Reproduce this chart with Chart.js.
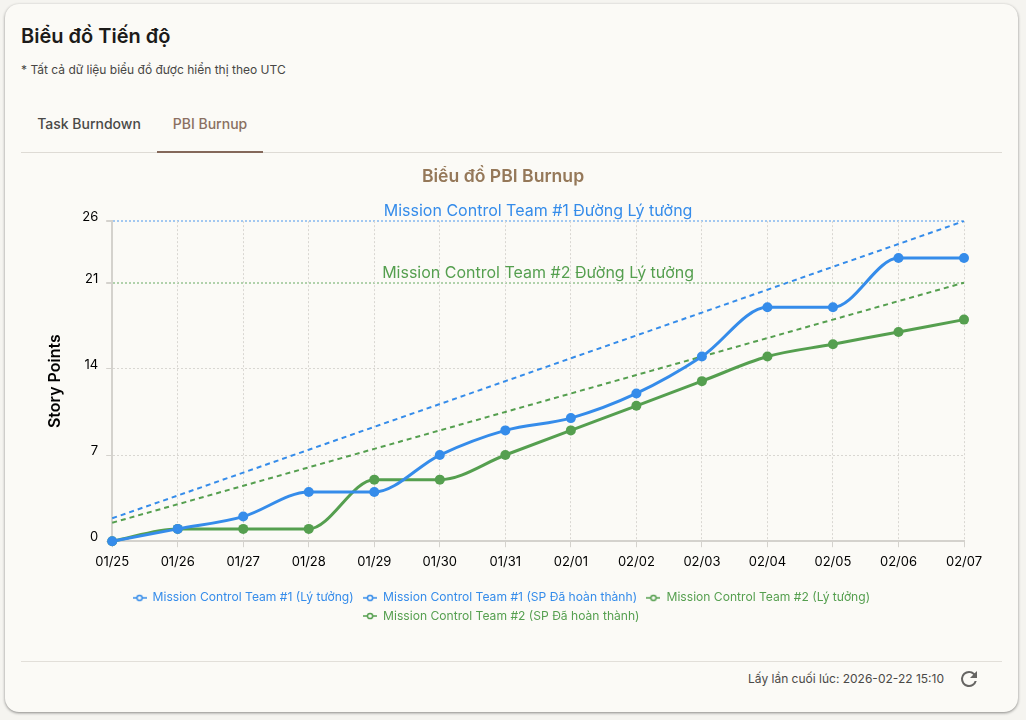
<!DOCTYPE html>
<html lang="vi">
<head>
<meta charset="utf-8">
<title>Biểu đồ Tiến độ</title>
<script src="https://cdn.jsdelivr.net/npm/chart.js@4"></script>
<style>
  html, body { margin: 0; height: 100%; background: #f5f4f0; font-family: Inter, sans-serif; overflow: hidden; }
  .card { position: absolute; left: 5px; top: 4px; width: 1013px; height: 708px; background: #fbfaf6; border-radius: 14px; box-shadow: 0 1px 3px rgba(0,0,0,.45); }
  h1 { position: absolute; left: 16px; top: 20px; margin: 0; font-size: 20px; line-height: 24px; font-weight: 600; color: #1c1b19; }
  .note { position: absolute; left: 16px; top: 58px; font-size: 12px; line-height: 16px; color: #474644; }
  .tabs { position: absolute; left: 16px; top: 100px; width: 981px; height: 48px; border-bottom: 1px solid #dedbd5; }
  .tab { position: absolute; top: 0; height: 47px; line-height: 40px; font-size: 14px; font-weight: 500; text-align: center; color: #4a4947; }
  .tab.on { color: #8a6f61; border-bottom: 2px solid #84685a; }
  .chartbox { position: absolute; left: 16px; top: 156px; width: 981px; height: 490px; }
  .foot { position: absolute; left: 16px; top: 657px; width: 981px; border-top: 1px solid #e2dfd9; }
  .stamp { position: absolute; right: 58px; top: 9px; font-size: 12px; line-height: 16px; color: #4a4947; white-space: nowrap; }
  .foot svg { position: absolute; left: 936px; top: 5px; }
</style>
</head>
<body>
<div class="card">
  <h1>Biểu đồ Tiến độ</h1>
  <div class="note">* Tất cả dữ liệu biểu đồ được hiển thị theo UTC</div>
  <div class="tabs">
    <div class="tab" style="left:0;width:136px">Task Burndown</div>
    <div class="tab on" style="left:136px;width:106px">PBI Burnup</div>
  </div>
  <div class="chartbox"><canvas id="burnupChart"></canvas></div>
  <div class="foot">
    <div class="stamp">Lấy lần cuối lúc: 2026-02-22 15:10</div>
    <svg width="24" height="24" viewBox="0 0 24 24"><path fill="#666563" d="M17.65 6.35A7.96 7.96 0 0 0 12 4a8 8 0 1 0 7.73 10h-2.08A6 6 0 1 1 12 6c1.66 0 3.14.69 4.22 1.78L13 11h7V4l-2.35 2.35z"/></svg>
  </div>
</div>
<script>
  // Data
  const days = ['01/25', '01/26', '01/27', '01/28', '01/29', '01/30', '01/31', '02/01', '02/02', '02/03', '02/04', '02/05', '02/06', '02/07'];
  const team1Ideal = [1.86, 3.71, 5.57, 7.43, 9.29, 11.14, 13, 14.86, 16.71, 18.57, 20.43, 22.29, 24.14, 26];
  const team1Done = [0, 1, 2, 4, 4, 7, 9, 10, 12, 15, 19, 19, 23, 23];
  const team2Ideal = [1.5, 3, 4.5, 6, 7.5, 9, 10.5, 12, 13.5, 15, 16.5, 18, 19.5, 21];
  const team2Done = [0, 1, 1, 1, 5, 5, 7, 9, 11, 13, 15, 16, 17, 18];
  const yTicks = [0, 7, 14, 21, 26];
  const seriesNames = [
    'Mission Control Team #1 (Lý tưởng)',
    'Mission Control Team #1 (SP Đã hoàn thành)',
    'Mission Control Team #2 (Lý tưởng)',
    'Mission Control Team #2 (SP Đã hoàn thành)'
  ];
  const idealLabels = ['Mission Control Team #1 Đường Lý tưởng', 'Mission Control Team #2 Đường Lý tưởng'];

  const blue = '#358cea';
  const green = '#559f4f';
  const fontName = 'Inter, sans-serif';

  // small line + hollow circle used as legend marker
  function legendIcon(color) {
    const c = document.createElement('canvas');
    c.width = 14;
    c.height = 8;
    const g = c.getContext('2d');
    g.strokeStyle = color;
    g.lineWidth = 1.5;
    g.beginPath();
    g.moveTo(0, 4);
    g.lineTo(14, 4);
    g.stroke();
    g.fillStyle = '#fbfaf6';
    g.beginPath();
    g.arc(7, 4, 2.6, 0, Math.PI * 2);
    g.fill();
    g.stroke();
    return c;
  }

  // Labels above the two target lines
  const idealLabelPlugin = {
    id: 'idealLabelPlugin',
    afterDraw(chart) {
      const { ctx, chartArea, scales } = chart;
      const mid = (chartArea.left + chartArea.right) / 2;
      ctx.save();
      ctx.font = '16px ' + fontName;
      ctx.textAlign = 'center';
      ctx.textBaseline = 'bottom';
      ctx.fillStyle = blue;
      ctx.fillText(idealLabels[0], mid, scales.y.getPixelForValue(26) - 2);
      ctx.fillStyle = green;
      ctx.fillText(idealLabels[1], mid, scales.y.getPixelForValue(21) - 1);
      ctx.restore();
    }
  };

  function idealSet(name, values, color) {
    return {
      label: name,
      data: values,
      borderColor: color,
      backgroundColor: color,
      borderWidth: 2,
      borderDash: [5, 4],
      pointRadius: 0,
      tension: 0,
      clip: false
    };
  }

  function doneSet(name, values, color) {
    return {
      label: name,
      data: values,
      borderColor: color,
      backgroundColor: color,
      borderWidth: 3,
      pointRadius: 5,
      pointBorderWidth: 0,
      pointHoverRadius: 6,
      cubicInterpolationMode: 'monotone',
      clip: false
    };
  }

  const burnupConfig = {
    type: 'line',
    data: {
      labels: days,
      datasets: [
        idealSet(seriesNames[0], team1Ideal, blue),
        doneSet(seriesNames[1], team1Done, blue),
        idealSet(seriesNames[2], team2Ideal, green),
        doneSet(seriesNames[3], team2Done, green)
      ]
    },
    options: {
      responsive: true,
      maintainAspectRatio: false,
      animation: false,
      layout: { padding: { left: 21, right: 38, bottom: 18 } },
      plugins: {
        title: {
          display: true,
          text: 'Biểu đồ PBI Burnup',
          color: '#957859',
          font: { family: fontName, size: 17.6, weight: '600' },
          padding: { top: 6, bottom: 34 }
        },
        legend: {
          position: 'bottom',
          labels: {
            usePointStyle: true,
            pointStyleWidth: 14,
            padding: 6,
            font: { family: fontName, size: 12.1 },
            generateLabels(chart) {
              return chart.data.datasets.map((ds, i) => ({
                text: ds.label + ' ', // a bit more room between legend items
                fontColor: ds.borderColor,
                strokeStyle: ds.borderColor,
                fillStyle: ds.borderColor,
                pointStyle: legendIcon(ds.borderColor),
                datasetIndex: i
              }));
            }
          }
        }
      },
      scales: {
        y: {
          min: 0,
          max: 26,
          afterBuildTicks(axis) {
            axis.ticks = yTicks.map(v => ({ value: v }));
          },
          title: {
            display: true,
            text: 'Story Points',
            color: '#000',
            font: { family: fontName, size: 16, weight: '600' },
            padding: { top: 4, bottom: 9 }
          },
          border: { color: '#d4d2cd', width: 2, dash: [2, 2] },
          grid: {
            color(c) {
              if (c.tick && c.tick.value === 26) return 'rgba(53,140,234,.45)';
              if (c.tick && c.tick.value === 21) return 'rgba(85,159,79,.45)';
              return '#d9d7d2';
            },
            lineWidth(c) {
              return c.tick && (c.tick.value === 26 || c.tick.value === 21) ? 2 : 1;
            },
            tickColor: '#d4d2cd',
            tickLength: 6
          },
          ticks: {
            color: '#000',
            font: { family: fontName, size: 13 },
            padding: 8,
            labelOffset: -4,
            autoSkip: false
          }
        },
        x: {
          afterFit(axis) {
            axis.height += 9; // gap above the legend
          },
          border: { color: '#d4d2cd', width: 2, dash: [2, 2] },
          grid: {
            color: '#d9d7d2',
            tickColor: '#d4d2cd',
            tickLength: 6
          },
          ticks: {
            color: '#000',
            font: { family: fontName, size: 13 },
            maxRotation: 0,
            padding: 7
          }
        }
      }
    },
    plugins: [idealLabelPlugin]
  };

  const burnupCtx = document.getElementById('burnupChart').getContext('2d');
  new Chart(burnupCtx, burnupConfig);
</script>
</body>
</html>
